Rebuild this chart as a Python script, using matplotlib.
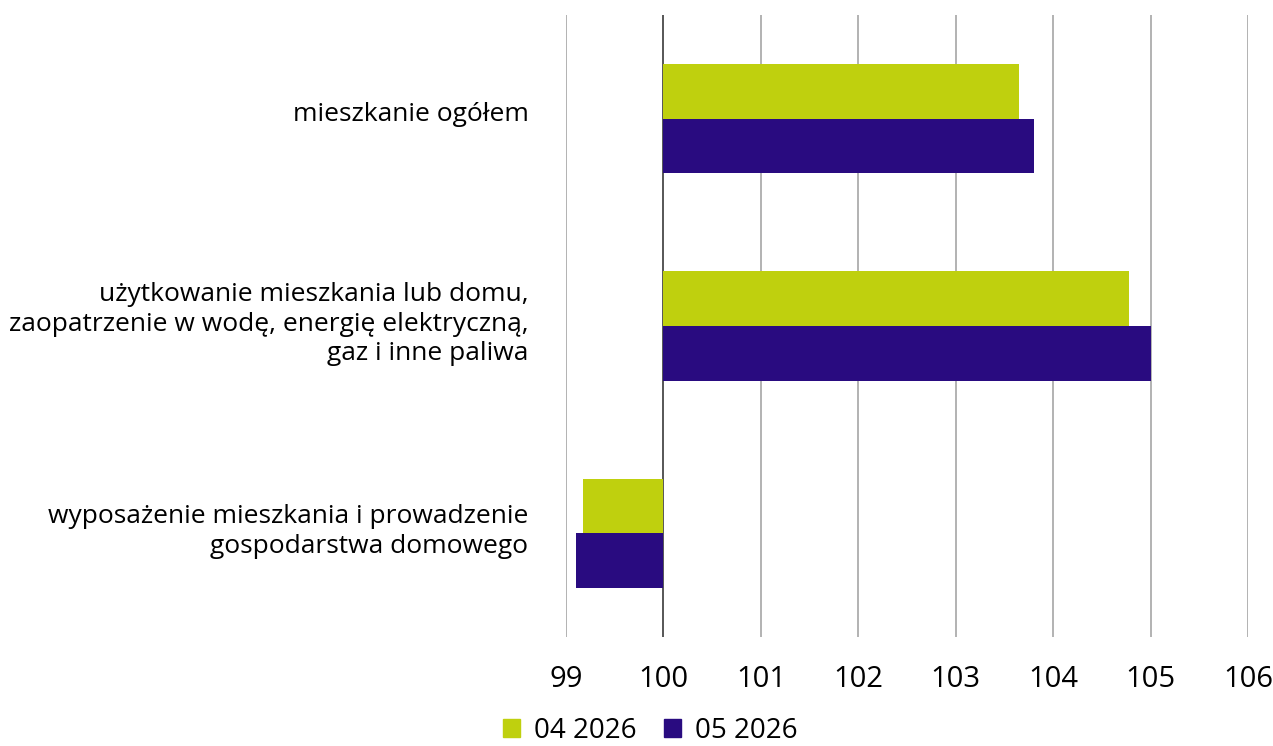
import numpy as np
import matplotlib
matplotlib.use("Agg")
import matplotlib.pyplot as plt
from matplotlib.patches import Patch
from matplotlib.transforms import ScaledTranslation

plt.rcParams['font.family'] = ['Open Sans', 'DejaVu Sans']

categories = [
    "mieszkanie ogółem",
    "użytkowanie mieszkania lub domu,\nzaopatrzenie w wodę, energię elektryczną,\ngaz i inne paliwa",
    "wyposażenie mieszkania i prowadzenie\ngospodarstwa domowego",
]
series_names = ["04 2026", "05 2026"]
apr_2026 = [103.65, 104.78, 99.17]
may_2026 = [103.8, 105.0, 99.1]
x_ticks = [99, 100, 101, 102, 103, 104, 105, 106]

base = 100
col_apr = "#BFD00E"
col_may = "#290B80"

fig = plt.figure(figsize=(12.73, 7.46), dpi=100)
ax = fig.add_axes([566 / 1273, 1 - 637 / 746, (1248 - 566) / 1273, (637 - 15) / 746])

y = np.arange(len(categories))
h = 0.263
ax.barh(y - h / 2, np.array(apr_2026) - base, left=base, height=h, color=col_apr, zorder=3)
ax.barh(y + h / 2, np.array(may_2026) - base, left=base, height=h, color=col_may, zorder=3)

ax.set_xlim(99, 106)
ax.set_ylim(2.5, -0.5)
ax.set_xticks(x_ticks)
ax.set_xticklabels([str(t) for t in x_ticks], fontsize=21)
ax.set_yticks(y)
ax.set_yticklabels(categories, fontsize=19, linespacing=1.22)
ax.tick_params(axis='x', length=0, pad=20)
ax.tick_params(axis='y', length=0, pad=27)
for s in ax.spines.values():
    s.set_visible(False)

# nudge category labels up a little, like the original
shift = ScaledTranslation(0, 5 / 72, fig.dpi_scale_trans)
for lab in ax.get_yticklabels():
    lab.set_transform(lab.get_transform() + shift)

for t in x_ticks:
    ax.axvline(t, color="#3a3a3a" if t == base else "#a6a6a6", lw=1.2, zorder=1)

handles = [Patch(color=col_apr), Patch(color=col_may)]
fig.legend(handles, series_names, loc="center", bbox_to_anchor=(0.511, 1 - 731 / 746),
           ncol=2, frameon=False, fontsize=20, handlelength=0.6, handleheight=0.6,
           handletextpad=0.5, columnspacing=1.0, borderpad=0)

fig.savefig("out.png", dpi=100)
